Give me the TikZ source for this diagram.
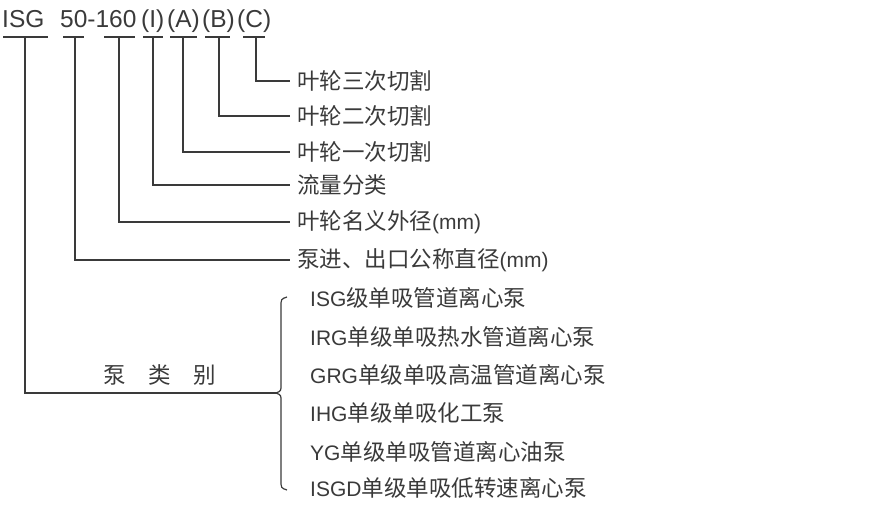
\documentclass[tikz,border=0pt]{standalone}
\usepackage{fontspec}
\setmainfont{Liberation Sans}
\newfontfamily\cjk{Noto Sans CJK SC}
\usepackage{xcolor}
\usepackage{tikz}
\usetikzlibrary{positioning}
\definecolor{ink}{RGB}{58,58,58}
\tikzstyle{uline} = [ink, line width=1.2pt]
\tikzstyle{link} = [ink, line width=1.2pt]
\tikzstyle{code} = [ink, anchor=base west, inner sep=0pt, font=\fontsize{24.5}{29}\selectfont]
\tikzstyle{lbl} = [ink, anchor=west, inner xsep=7pt, inner ysep=2pt, font=\fontsize{21}{25}\selectfont]
\newcommand{\zh}[1]{{\cjk\fontsize{22.5}{27}\selectfont #1}}

\begin{document}
\begin{tikzpicture}[x=1pt,y=-1pt]
\useasboundingbox (0,0) rectangle (890,510);

% model code
\node[code] (tisg) at (2,28) {ISG};
\node[code] (tsize) at (60,28) {50-160};
\node[code] (tfl) at (141,28) {(I)};
\node[code] (tya) at (167,28) {(A)};
\node[code] (tyb) at (202,28) {(B)};
\node[code] (tyc) at (237,28) {(C)};

% underlines and stems
\foreach \n/\a/\b/\m in {isg/3/48/25, dn/63/84/75, od/104/135/119, fl/143/163/153,
  ya/170/197/183, yb/205/230/219, yc/243/265/256} {
  \draw[uline] (\a,37) -- (\b,37);
  \coordinate (\n) at (\m,37);
}

% meanings
\node[lbl] (lyc) at (290,81) {\zh{叶轮三次切割}};
\node[lbl] (lyb) at (290,116) {\zh{叶轮二次切割}};
\node[lbl] (lya) at (290,152) {\zh{叶轮一次切割}};
\node[lbl] (lfl) at (290,185) {\zh{流量分类}};
\node[lbl] (lod) at (290,222) {\zh{叶轮名义外径}(mm)};
\node[lbl] (ldn) at (290,260) {\zh{泵进、出口公称直径}(mm)};

\draw[link] (yc) |- (lyc.west);
\draw[link] (yb) |- (lyb.west);
\draw[link] (ya) |- (lya.west);
\draw[link] (fl) |- (lfl.west);
\draw[link] (od) |- (lod.west);
\draw[link] (dn) |- (ldn.west);

% pump types
\coordinate (tip) at (276,393);
\node[ink] (kind) at (160,375) {\zh{泵\hspace{1em}类\hspace{1em}别}};
\draw[link] (isg) |- (tip);
\draw[link] (287,297) .. controls (281,299) .. (281,307) -- (281,385)
  .. controls (281,391) .. (tip) .. controls (281,395) .. (281,401) -- (281,480)
  .. controls (281,488) .. (287,490);

\node[lbl, inner xsep=0pt] (p1) at (310,298) {ISG\zh{级单吸管道离心泵}};
\node[lbl, inner xsep=0pt] (p2) at (310,337) {IRG\zh{单级单吸热水管道离心泵}};
\node[lbl, inner xsep=0pt] (p3) at (310,375) {GRG\zh{单级单吸高温管道离心泵}};
\node[lbl, inner xsep=0pt] (p4) at (310,413) {IHG\zh{单级单吸化工泵}};
\node[lbl, inner xsep=0pt] (p5) at (310,452) {YG\zh{单级单吸管道离心油泵}};
\node[lbl, inner xsep=0pt] (p6) at (310,488) {ISGD\zh{单级单吸低转速离心泵}};
\end{tikzpicture}
\end{document}
